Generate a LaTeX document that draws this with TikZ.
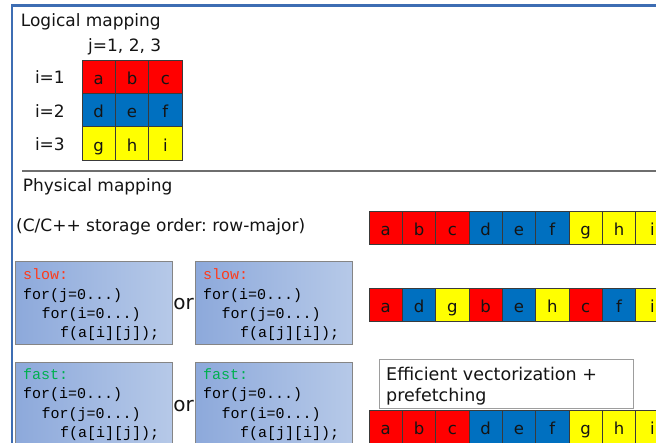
\documentclass[tikz,border=0pt]{standalone}
\usepackage{fontspec}
\setmainfont{DejaVu Sans}
\newfontfamily\codefont{Liberation Mono}
\frenchspacing
\definecolor{cred}{HTML}{FF0000}
\definecolor{cblue}{HTML}{0070C0}
\definecolor{cyel}{HTML}{FFFF00}
\definecolor{cellline}{HTML}{3A3A3A}
\definecolor{frameblue}{HTML}{3D6DB3}
\definecolor{sepgray}{HTML}{6E6E6E}
\definecolor{boxdark}{HTML}{8DA9DB}
\definecolor{boxlight}{HTML}{B6C9E8}
\definecolor{boxline}{HTML}{858585}
\definecolor{slowc}{HTML}{FF3B1A}
\definecolor{fastc}{HTML}{00B050}
\definecolor{txt}{HTML}{141414}
\begin{document}
\begin{tikzpicture}[x=1pt,y=-1pt,
  lbl/.style={inner sep=0pt, anchor=base west, text=txt, font=\fontsize{17}{20}\selectfont},
  cellbox/.style={draw=cellline, line width=0.8pt, minimum width=33.33pt, minimum height=33.33pt,
    inner sep=0pt, outer sep=0pt, anchor=north west, text height=16pt, text depth=0pt,
    font=\fontsize{16.5}{19}\selectfont, text=txt},
  codebox/.style={draw=boxline, line width=0.9pt, left color=boxdark, right color=boxlight,
    minimum width=157pt, minimum height=83pt, inner sep=0pt, anchor=north west},
  codetext/.style={inner sep=0pt, anchor=base west, text=black,
    font=\codefont\fontsize{15}{19.3}\selectfont},
  ortext/.style={inner sep=0pt, anchor=base, text=txt, font=\fontsize{20}{24}\selectfont}
]
\useasboundingbox (0,0) rectangle (656,443);
\fill[white] (0,0) rectangle (656,443);
% outer frame
\draw[frameblue, line width=2.2pt] (12,445) -- (12,5.6) -- (660,5.6);
% logical mapping
\node[lbl] (tlog) at (20.7,26.7) {Logical mapping};
\node[lbl] (tj) at (88,51.7) {j=1, 2, 3};
\foreach \r/\c/\l [count=\n] in {0/0/a,0/1/b,0/2/c,1/0/d,1/1/e,1/2/f,2/0/g,2/1/h,2/2/i}{
  \pgfmathsetmacro{\col}{\r==0 ? "cred" : (\r==1 ? "cblue" : "cyel")}
  \node[cellbox, fill=\col] (L\n) at ({82+\c*33.33},{60+\r*33.33}) {\l};
}
\node[lbl, anchor=base east] (ti1) at (65,84) {i=1};
\node[lbl, anchor=base east] (ti2) at (65,117.5) {i=2};
\node[lbl, anchor=base east] (ti3) at (65,150.5) {i=3};
% separator
\draw[sepgray, line width=2pt] (22,171.5) -- (660,171.5);
\node[lbl] (tphys) at (22.7,192) {Physical mapping};
\node[lbl] (tstore) at (16,232) {(C/C++ storage order: row-major)};
% memory rows
\foreach \l/\col [count=\n] in {a/cred,b/cred,c/cred,d/cblue,e/cblue,f/cblue,g/cyel,h/cyel,i/cyel}{
  \node[cellbox, fill=\col] (A\n) at ({369+(\n-1)*33.33},211) {\l};
}
\foreach \l/\col [count=\n] in {a/cred,d/cblue,g/cyel,b/cred,e/cblue,h/cyel,c/cred,f/cblue,i/cyel}{
  \node[cellbox, fill=\col] (B\n) at ({369+(\n-1)*33.33},288) {\l};
}
\foreach \l/\col [count=\n] in {a/cred,b/cred,c/cred,d/cblue,e/cblue,f/cblue,g/cyel,h/cyel,i/cyel}{
  \node[cellbox, fill=\col] (C\n) at ({369+(\n-1)*33.33},410) {\l};
}
% efficient box
\node[draw=boxline!80, line width=1pt, fill=white, minimum width=254pt, minimum height=49pt,
  inner sep=0pt, anchor=north west] (eff) at (379,359) {};
\node[lbl, font=\fontsize{17.5}{21}\selectfont] (efft1) at (386,381) {Efficient vectorization +};
\node[lbl, font=\fontsize{17.5}{21}\selectfont] (efft2) at (386,402) {prefetching};
% code boxes
\node[codebox] (s1) at (15,261) {};
\node[codebox] (s2) at (195,261) {};
\node[codebox] (f1) at (15,362) {};
\node[codebox] (f2) at (195,362) {};
% slow 1
\node[codetext, text=slowc] (s1a) at (23,280) {slow:};
\node[codetext] (s1b) at (23,299.3) {for(j=0...)};
\node[codetext] (s1c) at (41.5,318.6) {for(i=0...)};
\node[codetext] (s1d) at (60,337.9) {f(a[i][j]);};
% slow 2
\node[codetext, text=slowc] (s2a) at (203,280) {slow:};
\node[codetext] (s2b) at (203,299.3) {for(i=0...)};
\node[codetext] (s2c) at (221.5,318.6) {for(j=0...)};
\node[codetext] (s2d) at (240,337.9) {f(a[j][i]);};
% fast 1
\node[codetext, text=fastc] (f1a) at (23,379.5) {fast:};
\node[codetext] (f1b) at (23,398.8) {for(i=0...)};
\node[codetext] (f1c) at (41.5,418.1) {for(j=0...)};
\node[codetext] (f1d) at (60,437.4) {f(a[i][j]);};
% fast 2
\node[codetext, text=fastc] (f2a) at (203,379.5) {fast:};
\node[codetext] (f2b) at (203,398.8) {for(j=0...)};
\node[codetext] (f2c) at (221.5,418.1) {for(i=0...)};
\node[codetext] (f2d) at (240,437.4) {f(a[j][i]);};
\node[ortext] (or1) at (183.5,310) {or};
\node[ortext] (or2) at (183.5,412) {or};
\end{tikzpicture}
\end{document}
